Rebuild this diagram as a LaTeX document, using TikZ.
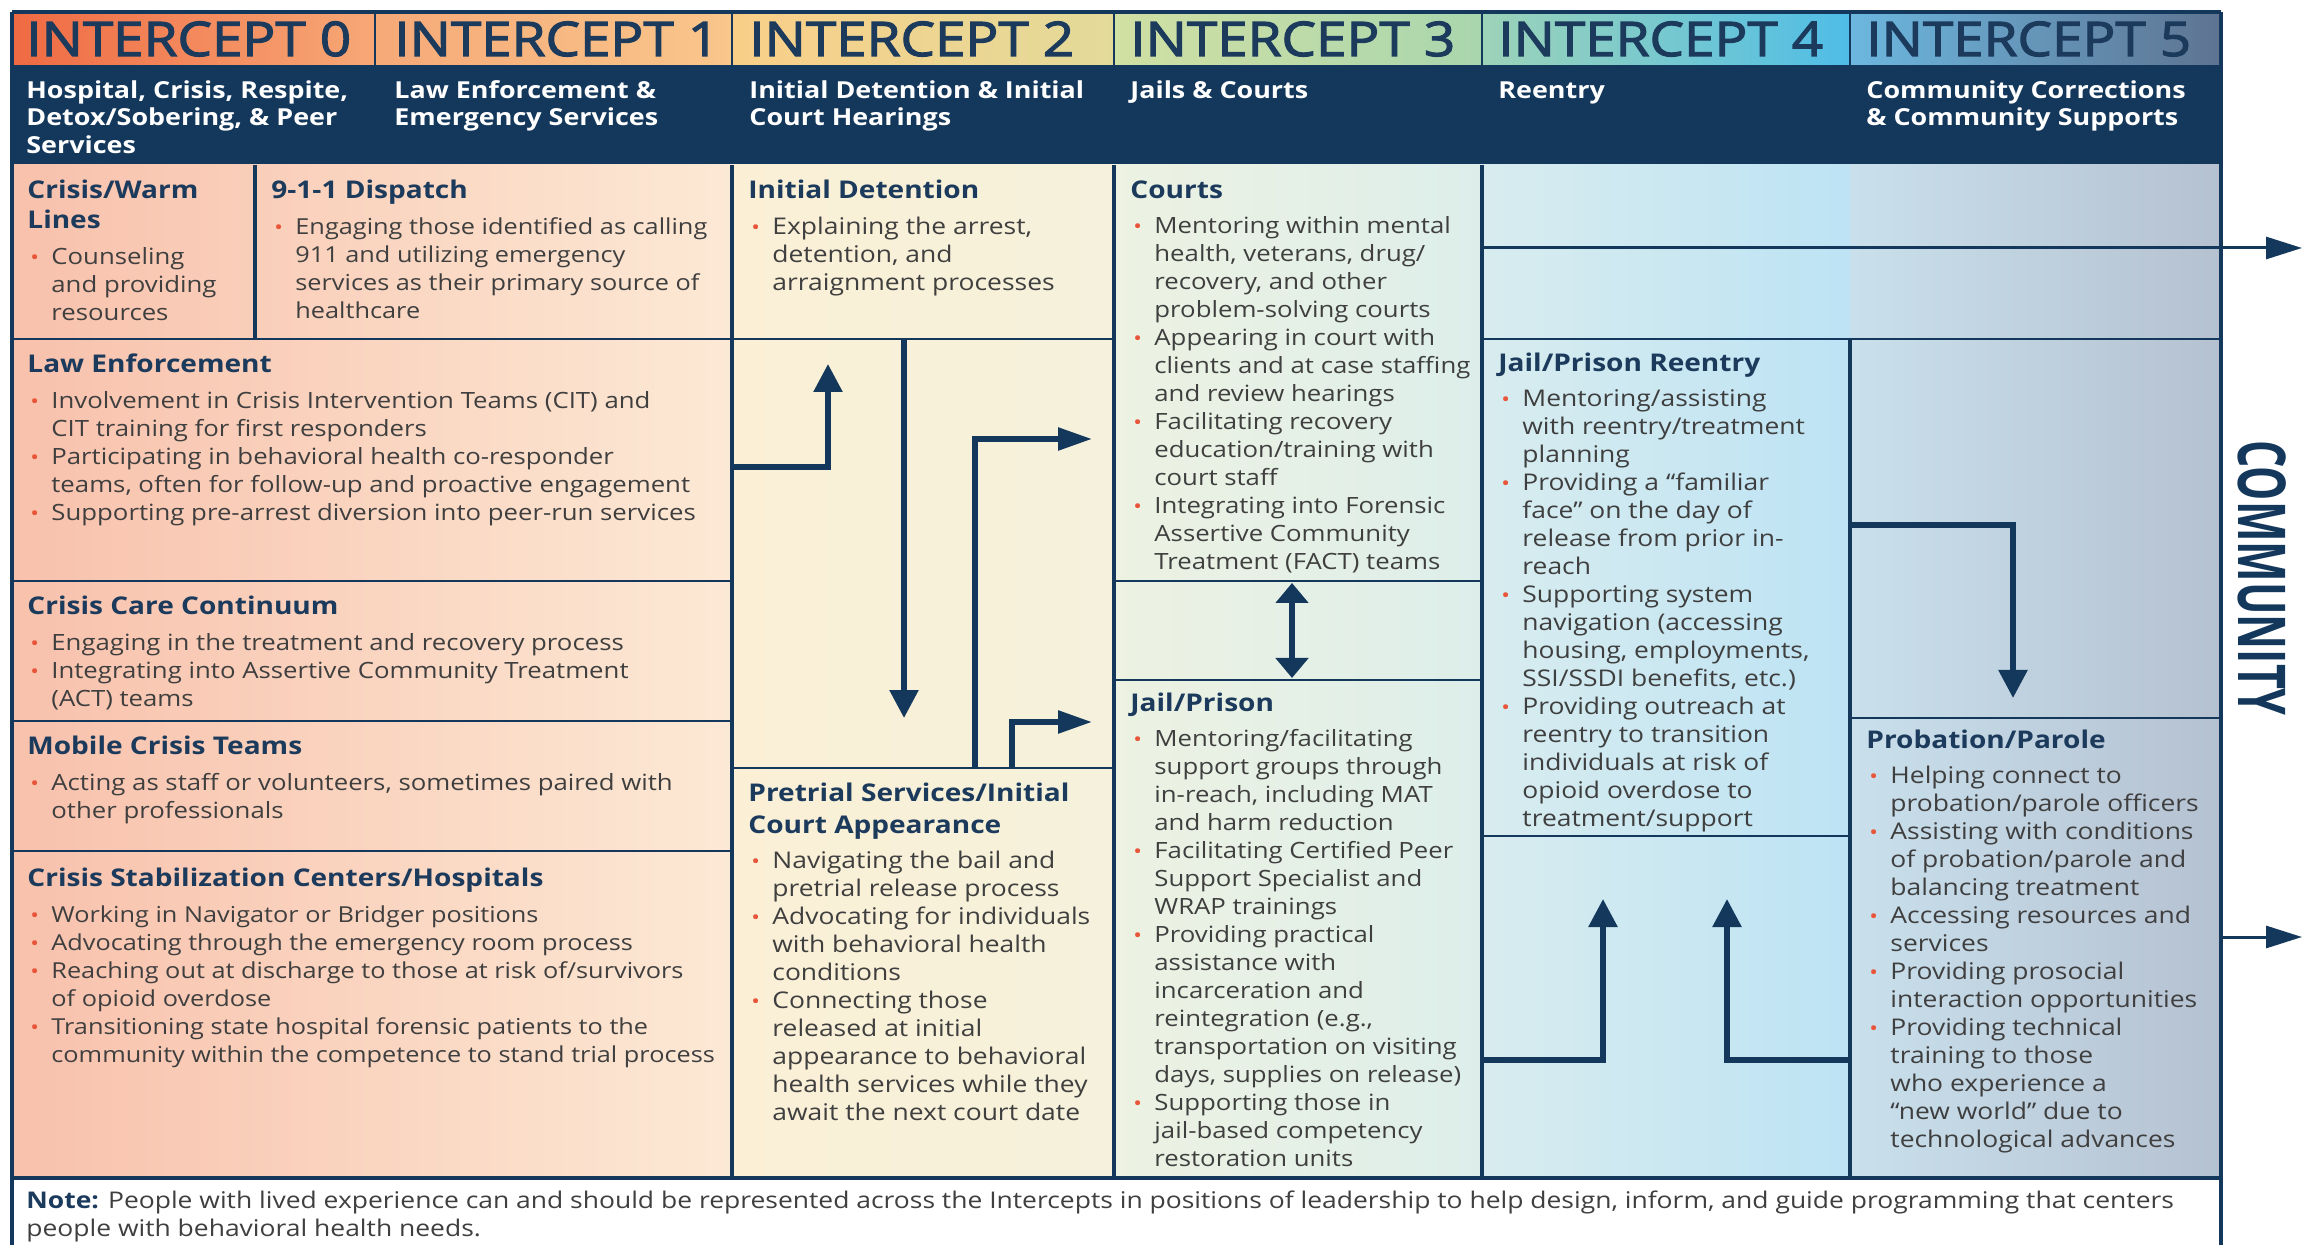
\documentclass[tikz,border=0pt]{standalone}
\usepackage{fontspec}
\usepackage{graphicx}
\usetikzlibrary{arrows.meta}
\newfontfamily\bodyf{Open Sans}[FakeStretch=1.15]
\newfontfamily\ttlf{Open Sans}[FakeStretch=1.15,FakeBold=2.5]
\newfontfamily\plainf{Open Sans}
\definecolor{navy}{HTML}{14385C}
\definecolor{txtc}{HTML}{3F3F3F}
\definecolor{bulc}{HTML}{E8553A}
\definecolor{hdc}{HTML}{1B3A5C}
\newcommand\bodyfont{\bodyf\fontsize{11.5}{14}\selectfont}
\newcommand\B{\makebox[12pt][l]{\hspace{1.5pt}\textcolor{bulc}{\fontsize{10}{10}\selectfont •}}}
\newcommand\I{\makebox[12pt]{}}
\newcommand\hd[1]{{\fontsize{12.2}{14}\selectfont\bfseries\color{hdc}\rule{0pt}{10pt}#1}}
\begin{document}
\begin{tikzpicture}[x={(0.5pt,0)}, y={(0,-0.5pt)},
  colline/.style={draw=navy, line width=2pt},
  rowline/.style={draw=navy, line width=1.3pt},
  txt/.style={anchor=north west, inner sep=0pt, align=left, font=\bodyfont, text=txtc},
  txtn/.style={txt, font=\bodyf\fontsize{11.2}{14}\selectfont},
  txts/.style={txt, font=\bodyf\fontsize{11}{14}\selectfont},
  ttl/.style={anchor=base west, inner sep=0pt, font=\ttlf\fontsize{23.8}{26}\selectfont, text=hdc},
  sub/.style={anchor=north west, inner sep=0pt, align=left, text=white, font=\bodyf\bfseries\fontsize{11.7}{13.8}\selectfont},
  varr/.style={draw=navy, line width=2.8pt, -{Triangle[width=14pt,length=14pt]}},
  harr/.style={draw=navy, line width=2.8pt, -{Triangle[width=11pt,length=17pt]}},
  carr/.style={draw=navy, line width=1.5pt, -{Triangle[width=11pt,length=18pt]}},
  dbl/.style={draw=navy, line width=3pt, {Triangle[width=16pt,length=10pt]}-{Triangle[width=16pt,length=10pt]}}]
\useasboundingbox (0,0) rectangle (2308,1245);
\fill[white] (0,0) rectangle (2308,1245);
% title row
\shade[left color={rgb,255:red,239;green,106;blue,67}, right color={rgb,255:red,247;green,168;blue,118}] (12,12) rectangle (375,65);
\shade[left color={rgb,255:red,246;green,169;blue,120}, right color={rgb,255:red,249;green,198;blue,139}] (375,12) rectangle (732,65);
\shade[left color={rgb,255:red,249;green,207;blue,136}, right color={rgb,255:red,227;green,218;blue,154}] (732,12) rectangle (1114,65);
\shade[left color={rgb,255:red,209;green,224;blue,163}, right color={rgb,255:red,169;green,214;blue,174}] (1114,12) rectangle (1482,65);
\shade[left color={rgb,255:red,157;green,211;blue,184}, right color={rgb,255:red,79;green,189;blue,231}] (1482,12) rectangle (1850,65);
\shade[left color={rgb,255:red,108;green,183;blue,223}, right color={rgb,255:red,94;green,115;blue,145}] (1850,12) rectangle (2221,65);
% band
\fill[navy] (12,65) rectangle (2221,165);
% body
\shade[left color={rgb,255:red,248;green,193;blue,172}, right color={rgb,255:red,252;green,233;blue,213}] (12,165) rectangle (732,1178);
\shade[left color={rgb,255:red,251;green,240;blue,214}, right color={rgb,255:red,245;green,241;blue,220}] (732,165) rectangle (1114,1178);
\shade[left color={rgb,255:red,237;green,242;blue,226}, right color={rgb,255:red,221;green,238;blue,234}] (1114,165) rectangle (1482,1178);
\shade[left color={rgb,255:red,216;green,236;blue,239}, right color={rgb,255:red,189;green,227;blue,244}] (1482,165) rectangle (1850,1178);
\shade[left color={rgb,255:red,201;green,224;blue,236}, right color={rgb,255:red,181;green,193;blue,209}] (1850,165) rectangle (2221,1178);
% title separators
\foreach \xx in {375,732,1114,1482,1850} \draw[rowline] (\xx,12) -- (\xx,65);
% row lines
\draw[rowline] (12,339) -- (732,339);
\draw[rowline] (12,581) -- (732,581);
\draw[rowline] (12,721) -- (732,721);
\draw[rowline] (12,851) -- (732,851);
\draw[rowline] (732,339) -- (1114,339);
\draw[rowline] (732,768) -- (1114,768);
\draw[rowline] (1114,581) -- (1482,581);
\draw[rowline] (1114,680) -- (1482,680);
\draw[rowline] (1482,339) -- (2221,339);
\draw[rowline] (1482,836) -- (1850,836);
\draw[rowline] (1850,718) -- (2221,718);
% column lines
\draw[colline] (255,165) -- (255,339);
\draw[colline] (732,165) -- (732,1178);
\draw[colline] (1114,165) -- (1114,1178);
\draw[colline] (1482,165) -- (1482,1178);
\draw[colline] (1850,339) -- (1850,1178);
\draw[colline] (12,1178) -- (2221,1178);
\draw[colline] (12,12) -- (2221,12);
\draw[colline] (12,12) -- (12,1245);
\draw[colline] (2221,12) -- (2221,1245);
% titles
\node[ttl] (i0) at (26,56) {INTERCEPT 0};
\node[ttl] (i1) at (394,56) {INTERCEPT 1};
\node[ttl] (i2) at (749,56) {INTERCEPT 2};
\node[ttl] (i3) at (1130,56) {INTERCEPT 3};
\node[ttl] (i4) at (1498,56) {INTERCEPT 4};
\node[ttl] (i5) at (1866,56) {INTERCEPT 5};
\node[sub] (s0) at (26,80) {\rule{0pt}{9pt}Hospital, Crisis, Respite,\\Detox/Sobering, \& Peer\\Services};
\node[sub] (s1) at (394,80) {\rule{0pt}{9pt}Law Enforcement \&\\Emergency Services};
\node[sub] (s2) at (749,80) {\rule{0pt}{9pt}Initial Detention \& Initial\\Court Hearings};
\node[sub] (s3) at (1130,80) {\rule{0pt}{9pt}Jails \& Courts};
\node[sub] (s4) at (1498,80) {\rule{0pt}{9pt}Reentry};
\node[sub] (s5) at (1866,80) {\rule{0pt}{9pt}Community Corrections\\\& Community Supports};
% boxes text
\node[txtn] (tA) at (27,178) {\hd{Crisis/Warm}\\[1pt]\hd{Lines}\\[4pt]
\B Counseling\\
\I and providing\\
\I resources};
\node[txts] (tB) at (271,178) {\hd{9-1-1 Dispatch}\\[4pt]
\B Engaging those identified as calling\\
\I 911 and utilizing emergency\\
\I services as their primary source of\\
\I healthcare};
\node[txtn] (tC) at (27,352) {\hd{Law Enforcement}\\[4pt]
\B Involvement in Crisis Intervention Teams (CIT) and\\
\I CIT training for first responders\\
\B Participating in behavioral health co-responder\\
\I teams, often for follow-up and proactive engagement\\
\B Supporting pre-arrest diversion into peer-run services};
\node[txtn] (tD) at (27,594) {\hd{Crisis Care Continuum}\\[4pt]
\B Engaging in the treatment and recovery process\\
\B Integrating into Assertive Community Treatment\\
\I (ACT) teams};
\node[txtn] (tE) at (27,734) {\hd{Mobile Crisis Teams}\\[4pt]
\B Acting as staff or volunteers, sometimes paired with\\
\I other professionals};
\node[txts] (tF) at (27,866) {\hd{Crisis Stabilization Centers/Hospitals}\\[4pt]
\B Working in Navigator or Bridger positions\\
\B Advocating through the emergency room process\\
\B Reaching out at discharge to those at risk of/survivors\\
\I of opioid overdose\\
\B Transitioning state hospital forensic patients to the\\
\I community within the competence to stand trial process};
\node[txt] (tG) at (748,178) {\hd{Initial Detention}\\[4pt]
\B Explaining the arrest,\\
\I detention, and\\
\I arraignment processes};
\node[txt] (tH) at (748,781) {\hd{Pretrial Services/Initial}\\[2pt]\hd{Court Appearance}\\[3.5pt]
\B Navigating the bail and\\
\I pretrial release process\\
\B Advocating for individuals\\
\I with behavioral health\\
\I conditions\\
\B Connecting those\\
\I released at initial\\
\I appearance to behavioral\\
\I health services while they\\
\I await the next court date};
\node[txtn] (tI) at (1130,178) {\hd{Courts}\\[3.5pt]
\B Mentoring within mental\\
\I health, veterans, drug/\\
\I recovery, and other\\
\I problem-solving courts\\
\B Appearing in court with\\
\I clients and at case staffing\\
\I and review hearings\\
\B Facilitating recovery\\
\I education/training with\\
\I court staff\\
\B Integrating into Forensic\\
\I Assertive Community\\
\I Treatment (FACT) teams};
\node[txtn] (tJ) at (1130,691) {\hd{Jail/Prison}\\[3.5pt]
\B Mentoring/facilitating\\
\I support groups through\\
\I in-reach, including MAT\\
\I and harm reduction\\
\B Facilitating Certified Peer\\
\I Support Specialist and\\
\I WRAP trainings\\
\B Providing practical\\
\I assistance with\\
\I incarceration and\\
\I reintegration (e.g.,\\
\I transportation on visiting\\
\I days, supplies on release)\\
\B Supporting those in\\
\I jail-based competency\\
\I restoration units};
\node[txt] (tK) at (1498,351) {\hd{Jail/Prison Reentry}\\[3.5pt]
\B Mentoring/assisting\\
\I with reentry/treatment\\
\I planning\\
\B Providing a “familiar\\
\I face” on the day of\\
\I release from prior in-\\
\I reach\\
\B Supporting system\\
\I navigation (accessing\\
\I housing, employments,\\
\I SSI/SSDI benefits, etc.)\\
\B Providing outreach at\\
\I reentry to transition\\
\I individuals at risk of\\
\I opioid overdose to\\
\I treatment/support};
\node[txt] (tL) at (1866,728) {\hd{Probation/Parole}\\[3.5pt]
\B Helping connect to\\
\I probation/parole officers\\
\B Assisting with conditions\\
\I of probation/parole and\\
\I balancing treatment\\
\B Accessing resources and\\
\I services\\
\B Providing prosocial\\
\I interaction opportunities\\
\B Providing technical\\
\I training to those\\
\I who experience a\\
\I “new world” due to\\
\I technological advances};
\node[txt] (note) at (26,1190) {\rule{0pt}{9pt}\textcolor{hdc}{\bfseries Note:} People with lived experience can and should be represented across the Intercepts in positions of leadership to help design, inform, and guide programming that centers\\
people with behavioral health needs.};
\node[rotate=-90, inner sep=0pt, text=navy] (comm) at (2262,578) {\scalebox{0.75}[1.15]{\plainf\bfseries\fontsize{28.7}{30}\selectfont COMMUNITY}};
% arrows
\coordinate (a1s) at (732,467); \coordinate (a1c) at (828,467); \coordinate (a1e) at (828,364);
\draw[varr] (a1s) -- (a1c) -- (a1e);
\coordinate (a2s) at (904,339); \coordinate (a2e) at (904,718);
\draw[varr] (a2s) -- (a2e);
\coordinate (a3s) at (975,768); \coordinate (a3c) at (975,439); \coordinate (a3e) at (1092,439);
\draw[harr] (a3s) -- (a3c) -- (a3e);
\coordinate (a4s) at (1012,768); \coordinate (a4c) at (1012,722); \coordinate (a4e) at (1092,722);
\draw[harr] (a4s) -- (a4c) -- (a4e);
\coordinate (a5s) at (1292,583); \coordinate (a5e) at (1292,678);
\draw[dbl] (a5s) -- (a5e);
\coordinate (a6s) at (1482,248); \coordinate (a6e) at (2302,248);
\draw[carr] (a6s) -- (a6e);
\coordinate (a7s) at (1482,1060); \coordinate (a7c) at (1603,1060); \coordinate (a7e) at (1603,899);
\draw[varr] (a7s) -- (a7c) -- (a7e);
\coordinate (a8s) at (1850,1060); \coordinate (a8c) at (1727,1060); \coordinate (a8e) at (1727,899);
\draw[varr] (a8s) -- (a8c) -- (a8e);
\coordinate (a9s) at (1850,525); \coordinate (a9c) at (2013,525); \coordinate (a9e) at (2013,698);
\draw[varr] (a9s) -- (a9c) -- (a9e);
\coordinate (a10s) at (2221,937); \coordinate (a10e) at (2302,937);
\draw[carr] (a10s) -- (a10e);
\end{tikzpicture}
\end{document}
